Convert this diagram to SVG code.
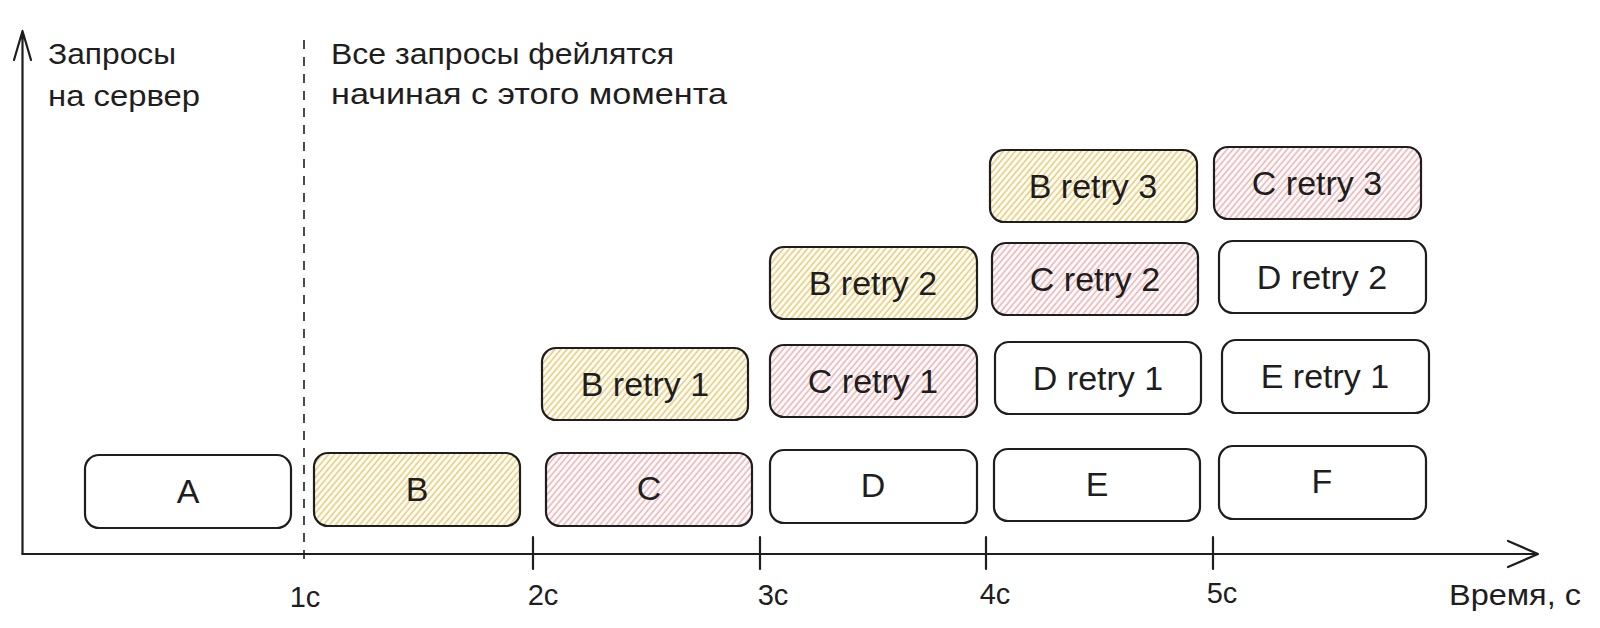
<svg xmlns="http://www.w3.org/2000/svg" width="1600" height="628" viewBox="0 0 1600 628">
<defs>
<pattern id="hY" patternUnits="userSpaceOnUse" width="4.6" height="6" patternTransform="rotate(40)">
<rect width="4.6" height="6" fill="#fffdf5"/>
<line x1="1" y1="0" x2="1" y2="6" stroke="#e2bd5c" stroke-width="1.2"/>
</pattern>
<pattern id="hR" patternUnits="userSpaceOnUse" width="4.6" height="6" patternTransform="rotate(40)">
<rect width="4.6" height="6" fill="#fffbfb"/>
<line x1="1" y1="0" x2="1" y2="6" stroke="#e6a0a6" stroke-width="1.2"/>
</pattern>
</defs>
<style>
.box{stroke:#1e1e1e;stroke-width:2.2;fill:#ffffff}
.y{fill:url(#hY)}
.r{fill:url(#hR)}
.lbl{font-family:"Liberation Sans",Arial,sans-serif;font-size:34px;fill:#1e1e1e;text-anchor:middle;dominant-baseline:central}
.ax{stroke:#1e1e1e;stroke-width:2.2;fill:none;stroke-linecap:round;stroke-linejoin:round}
.note{font-family:"Liberation Sans",Arial,sans-serif;font-size:29px;fill:#1e1e1e}
.tick{font-family:"Liberation Sans",Arial,sans-serif;font-size:29px;fill:#1e1e1e;text-anchor:middle}
</style>
<rect width="1600" height="628" fill="#ffffff"/>
<g id="connectors">
<path class="ax" d="M22.5,554 V31 M14,60 L22.5,31 L31,60"/>
<path class="ax" d="M22.5,554 H1538 M1508,541 L1538,554 L1508,567"/>
<line x1="304" y1="40" x2="304" y2="566" stroke="#1e1e1e" stroke-width="1.6" stroke-dasharray="9 8"/>
<path class="ax" d="M533,537 V569 M760,537 V569 M986,537 V569 M1213,537 V569"/>
</g>
<g id="labels">
<text class="note" x="48" y="64" textLength="128" lengthAdjust="spacingAndGlyphs">Запросы</text>
<text class="note" x="48" y="106" textLength="152" lengthAdjust="spacingAndGlyphs">на сервер</text>
<text class="note" x="331" y="64" textLength="343" lengthAdjust="spacingAndGlyphs">Все запросы фейлятся</text>
<text class="note" x="331" y="104" textLength="396" lengthAdjust="spacingAndGlyphs">начиная с этого момента</text>
<text class="tick" x="305" y="607">1с</text>
<text class="tick" x="543" y="605">2с</text>
<text class="tick" x="773" y="605">3с</text>
<text class="tick" x="995" y="604">4с</text>
<text class="tick" x="1222" y="603">5с</text>
<text class="note" x="1449" y="605" textLength="132" lengthAdjust="spacingAndGlyphs">Время, с</text>
</g>
<g id="node-A"><rect class="box" x="85" y="455" width="206" height="73" rx="14"/><text class="lbl" x="188" y="491">A</text></g>
<g id="node-B"><rect class="box y" x="314" y="453" width="206" height="73" rx="14"/><text class="lbl" x="417" y="489">B</text></g>
<g id="node-C"><rect class="box r" x="546" y="453" width="206" height="73" rx="14"/><text class="lbl" x="649" y="488">C</text></g>
<g id="node-D"><rect class="box" x="770" y="450" width="207" height="73" rx="14"/><text class="lbl" x="873" y="485">D</text></g>
<g id="node-E"><rect class="box" x="994" y="449" width="206" height="72" rx="14"/><text class="lbl" x="1097" y="484">E</text></g>
<g id="node-F"><rect class="box" x="1219" y="446" width="207" height="73" rx="14"/><text class="lbl" x="1322" y="481">F</text></g>
<g id="node-B-retry-1"><rect class="box y" x="542" y="348" width="206" height="72" rx="14"/><text class="lbl" x="645" y="384">B retry 1</text></g>
<g id="node-C-retry-1"><rect class="box r" x="770" y="345" width="207" height="72" rx="14"/><text class="lbl" x="873" y="381">C retry 1</text></g>
<g id="node-D-retry-1"><rect class="box" x="995" y="342" width="206" height="72" rx="14"/><text class="lbl" x="1098" y="378">D retry 1</text></g>
<g id="node-E-retry-1"><rect class="box" x="1222" y="340" width="207" height="73" rx="14"/><text class="lbl" x="1325" y="376">E retry 1</text></g>
<g id="node-B-retry-2"><rect class="box y" x="770" y="247" width="207" height="72" rx="14"/><text class="lbl" x="873" y="283">B retry 2</text></g>
<g id="node-C-retry-2"><rect class="box r" x="992" y="243" width="206" height="72" rx="14"/><text class="lbl" x="1095" y="279">C retry 2</text></g>
<g id="node-D-retry-2"><rect class="box" x="1219" y="241" width="207" height="72" rx="14"/><text class="lbl" x="1322" y="277">D retry 2</text></g>
<g id="node-B-retry-3"><rect class="box y" x="990" y="150" width="207" height="72" rx="14"/><text class="lbl" x="1093" y="186">B retry 3</text></g>
<g id="node-C-retry-3"><rect class="box r" x="1214" y="147" width="207" height="72" rx="14"/><text class="lbl" x="1317" y="183">C retry 3</text></g>
</svg>
